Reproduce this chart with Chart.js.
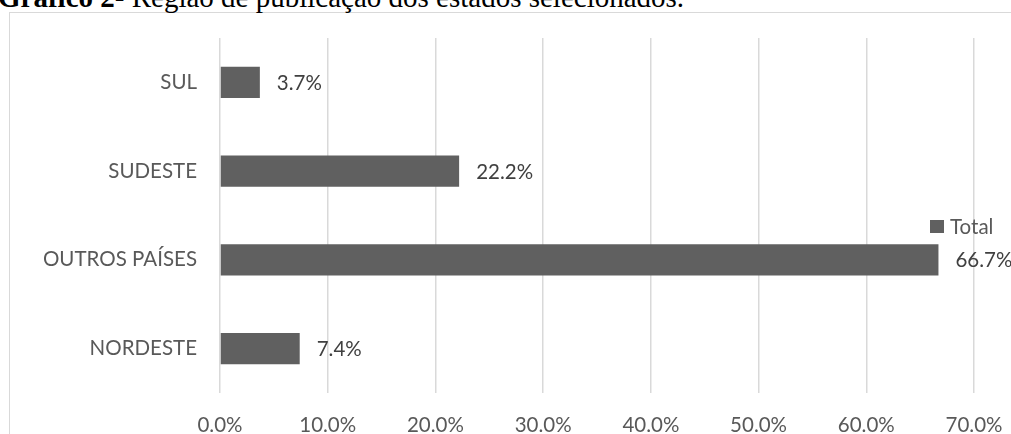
<!DOCTYPE html>
<html>
<head>
<meta charset="utf-8">
<script src="https://cdn.jsdelivr.net/npm/chart.js@4"></script>
<style>
  html, body { margin: 0; padding: 0; width: 1011px; height: 434px; overflow: hidden; background: #fff; }
  #title { position: absolute; left: -2px; top: -19.5px; font-family: "Liberation Serif", "Times New Roman", serif; font-size: 29px; color: #000; white-space: nowrap; line-height: 32px; }
  #frame { position: absolute; left: 9px; top: 11.5px; width: 1100px; height: 600px; border: 1.5px solid #d9d9d9; box-sizing: border-box; }
  #wrap { position: absolute; left: 0; top: 0; width: 1011px; height: 434px; }
</style>
</head>
<body>
<div id="frame"></div>
<div id="title"><b>Gráfico 2</b>- Região de publicação dos estados selecionados.</div>
<div id="wrap"><canvas id="c" width="1011" height="434"></canvas></div>
<script>
const categories = ["SUL", "SUDESTE", "OUTROS PAÍSES", "NORDESTE"];
const totalValues = [3.7, 22.2, 66.7, 7.4];
const seriesName = "Total";
const axisMin = 0;
const axisMax = 70;
const axisStep = 10;

const FONT = "Lato, 'Open Sans', sans-serif";
const FSIZE = 20.5;

const dataLabels = {
  id: 'dataLabels',
  afterDatasetsDraw(chart) {
    const ctx = chart.ctx;
    const meta = chart.getDatasetMeta(0);
    ctx.save();
    ctx.font = FSIZE + "px " + FONT;
    ctx.fillStyle = "#404040";
    ctx.textAlign = "left";
    ctx.textBaseline = "middle";
    meta.data.forEach((bar, i) => {
      const v = chart.data.datasets[0].data[i];
      ctx.fillText(v.toFixed(1) + "%", bar.x + 17, bar.y + 1);
    });
    ctx.restore();
  }
};

const customLegend = {
  id: 'customLegend',
  afterDraw(chart) {
    const ctx = chart.ctx;
    const ds = chart.data.datasets[0];
    const x = 930, y = 220;
    ctx.save();
    ctx.fillStyle = ds.backgroundColor;
    ctx.fillRect(x, y, 14, 13);
    ctx.font = FSIZE + "px " + FONT;
    ctx.fillStyle = "#595959";
    ctx.textAlign = "left";
    ctx.textBaseline = "middle";
    ctx.fillText(ds.label, x + 20, y + 7);
    ctx.restore();
  }
};

new Chart(document.getElementById('c'), {
  type: 'bar',
  data: {
    labels: categories,
    datasets: [{
      label: seriesName,
      data: totalValues,
      backgroundColor: '#606060',
      borderWidth: 0,
      barPercentage: 0.35,
      categoryPercentage: 1.0
    }]
  },
  options: {
    indexAxis: 'y',
    responsive: false,
    animation: false,
    devicePixelRatio: 1,
    layout: { padding: { top: 38, right: 37, left: 0, bottom: 0 } },
    plugins: {
      legend: { display: false },
      tooltip: { enabled: false },
      title: { display: false }
    },
    scales: {
      x: {
        min: axisMin,
        max: axisMax,
        ticks: {
          stepSize: axisStep,
          callback: (v) => Number(v).toFixed(1) + "%",
          font: { family: FONT, size: FSIZE },
          color: '#595959',
          padding: 20,
          maxRotation: 0
        },
        grid: { color: '#d9d9d9', lineWidth: 1.5, drawTicks: false },
        border: { display: false },
        afterFit(scale) { scale.height = 41; scale.paddingLeft = 0; scale.paddingRight = 0; }
      },
      y: {
        ticks: {
          font: { family: FONT, size: FSIZE },
          color: '#595959',
          padding: 23
        },
        grid: { display: false, drawTicks: false },
        border: { display: false },
        afterFit(scale) { scale.width = 220; scale.paddingTop = 0; scale.paddingBottom = 0; }
      }
    }
  },
  plugins: [dataLabels, customLegend]
});
</script>
</body>
</html>
